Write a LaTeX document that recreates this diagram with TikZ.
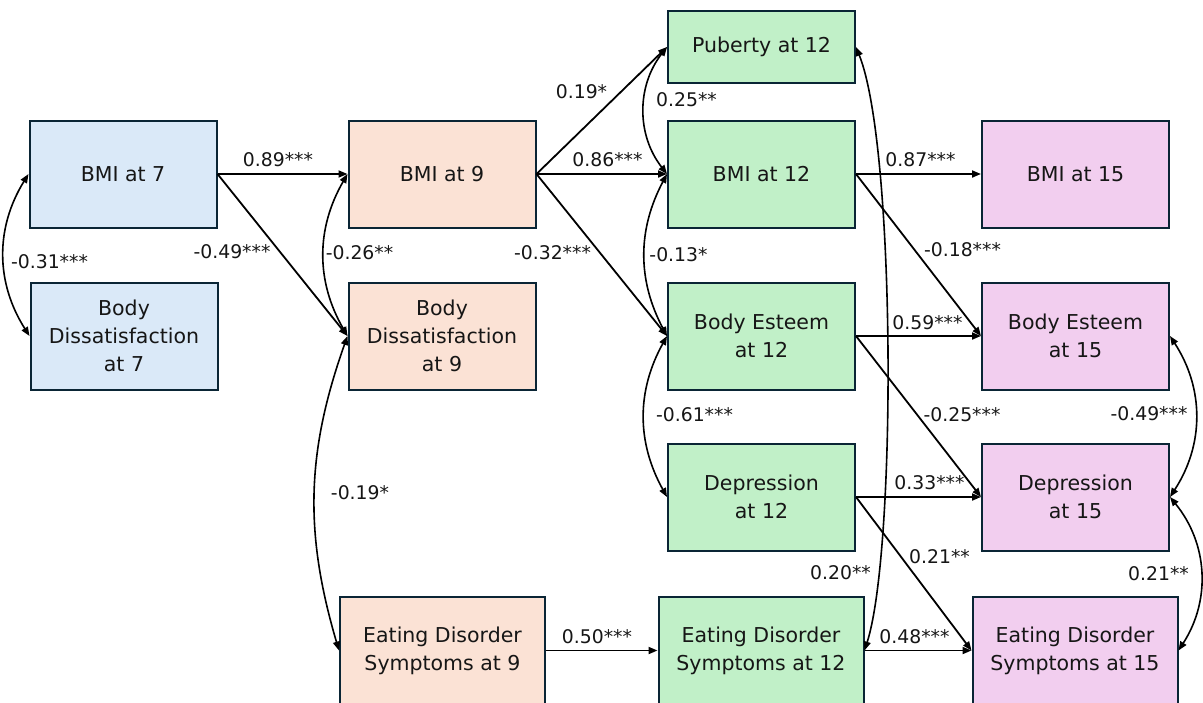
\documentclass[tikz,border=0pt]{standalone}
\usepackage{fontspec}
\setmainfont{DejaVu Sans}
\usetikzlibrary{arrows.meta}

\definecolor{edgecol}{HTML}{0A2535}
\definecolor{txtcol}{HTML}{161616}
\definecolor{age7}{HTML}{DAE9F8}
\definecolor{age9}{HTML}{FBE2D5}
\definecolor{age12}{HTML}{C1F0C8}
\definecolor{age15}{HTML}{F2CEEF}

\tikzset{
  box/.style={draw=edgecol, line width=2pt, text=txtcol, align=center,
    inner sep=0pt, font=\fontsize{20.5}{28}\selectfont},
  wide/.style={minimum width=187pt, minimum height=107pt},
  wider/.style={minimum width=205pt, minimum height=107pt},
  coef/.style={text=txtcol, inner sep=0pt, font=\fontsize{18.8}{20}\selectfont},
  regpath/.style={draw=black, line width=1.8pt,
    -{Triangle[length=9pt,width=7pt]}},
  cov/.style={draw=black, line width=1.6pt,
    {Triangle[length=9pt,width=7pt]}-{Triangle[length=9pt,width=7pt]}}
}

\begin{document}
\begin{tikzpicture}[x=1pt,y=-1pt]
\clip (0,0) rectangle (1203,702);
\fill[white] (0,0) rectangle (1203,702);

% age 7
\node[box, wide, fill=age7] (bmi7) at (123,174) {BMI at 7};
\node[box, wide, fill=age7] (bd7)  at (124,336) {Body\\Dissatisfaction\\at 7};

% age 9
\node[box, wide, fill=age9] (bmi9) at (442,174) {BMI at 9};
\node[box, wide, fill=age9] (bd9)  at (442,336) {Body\\Dissatisfaction\\at 9};
\node[box, wider, fill=age9] (eds9) at (442.5,650.5) {Eating Disorder\\Symptoms at 9};

% age 12
\node[box, fill=age12, minimum width=187pt, minimum height=72pt] (pub12) at (761.5,47) {Puberty at 12};
\node[box, wide, fill=age12] (bmi12) at (761.5,174) {BMI at 12};
\node[box, wide, fill=age12] (be12)  at (761.5,336) {Body Esteem\\at 12};
\node[box, wide, fill=age12] (dep12) at (761.5,497) {Depression\\at 12};
\node[box, wider, fill=age12] (eds12) at (761,650.5) {Eating Disorder\\Symptoms at 12};

% age 15
\node[box, wide, fill=age15] (bmi15) at (1075.5,174) {BMI at 15};
\node[box, wide, fill=age15] (be15)  at (1075.5,336) {Body Esteem\\at 15};
\node[box, wide, fill=age15] (dep15) at (1075.5,497) {Depression\\at 15};
\node[box, wider, fill=age15] (eds15) at (1075,650.5) {Eating Disorder\\Symptoms at 15};

% regression paths
\draw[regpath] (bmi7.east) -- (bmi9.west);
\draw[regpath] (bmi7.east) -- (bd9.west);
\draw[regpath] (bmi9.east) -- (pub12.west);
\draw[regpath] (bmi9.east) -- (bmi12.west);
\draw[regpath] (bmi9.east) -- (be12.west);
\draw[regpath] (eds9.east) -- (eds12.west);
\draw[regpath] (bmi12.east) -- (bmi15.west);
\draw[regpath] (bmi12.east) -- (be15.west);
\draw[regpath] (be12.east) -- (be15.west);
\draw[regpath] (be12.east) -- (dep15.west);
\draw[regpath] (dep12.east) -- (dep15.west);
\draw[regpath] (dep12.east) -- (eds15.west);
\draw[regpath] (eds12.east) -- (eds15.west);

% covariances
\draw[cov] (bmi7.west) to[bend right=32] (bd7.west);
\draw[cov] (bmi9.west) to[bend right=30] (bd9.west);
\draw[cov] (bd9.west) to[bend right=18] (eds9.west);
\draw[cov] (pub12.west) to[bend right=38] (bmi12.west);
\draw[cov] (bmi12.west) to[bend right=28] (be12.west);
\draw[cov] (be12.west) to[bend right=29] (dep12.west);
\draw[cov] (pub12.east) .. controls +(40,100) and +(32,-100) .. (eds12.east);
\draw[cov] (be15.east) to[bend left=33] (dep15.east);
\draw[cov] (dep15.east) to[bend left=36] (eds15.east);

% coefficients
\node[coef] (c1)  at (278,160)   {0.89***};
\node[coef] (c2)  at (232,252)   {-0.49***};
\node[coef] (c3)  at (49.5,262)  {-0.31***};
\node[coef] (c4)  at (359.5,253) {-0.26**};
\node[coef] (c5)  at (581.5,92)  {0.19*};
\node[coef] (c6)  at (607.5,160) {0.86***};
\node[coef] (c7)  at (552.5,253) {-0.32***};
\node[coef] (c8)  at (686.5,100) {0.25**};
\node[coef] (c9)  at (678.5,255) {-0.13*};
\node[coef] (c10) at (694.5,415) {-0.61***};
\node[coef] (c11) at (360,493)   {-0.19*};
\node[coef] (c12) at (597,637)   {0.50***};
\node[coef] (c13) at (920.5,160) {0.87***};
\node[coef] (c14) at (962.5,250) {-0.18***};
\node[coef] (c15) at (927.5,323) {0.59***};
\node[coef] (c16) at (962,415)   {-0.25***};
\node[coef] (c17) at (929.5,483) {0.33***};
\node[coef] (c18) at (939.5,557) {0.21**};
\node[coef] (c19) at (840.5,573) {0.20**};
\node[coef] (c20) at (914.5,637) {0.48***};
\node[coef] (c21) at (1149,414)  {-0.49***};
\node[coef] (c22) at (1158.5,574) {0.21**};
\end{tikzpicture}
\end{document}
